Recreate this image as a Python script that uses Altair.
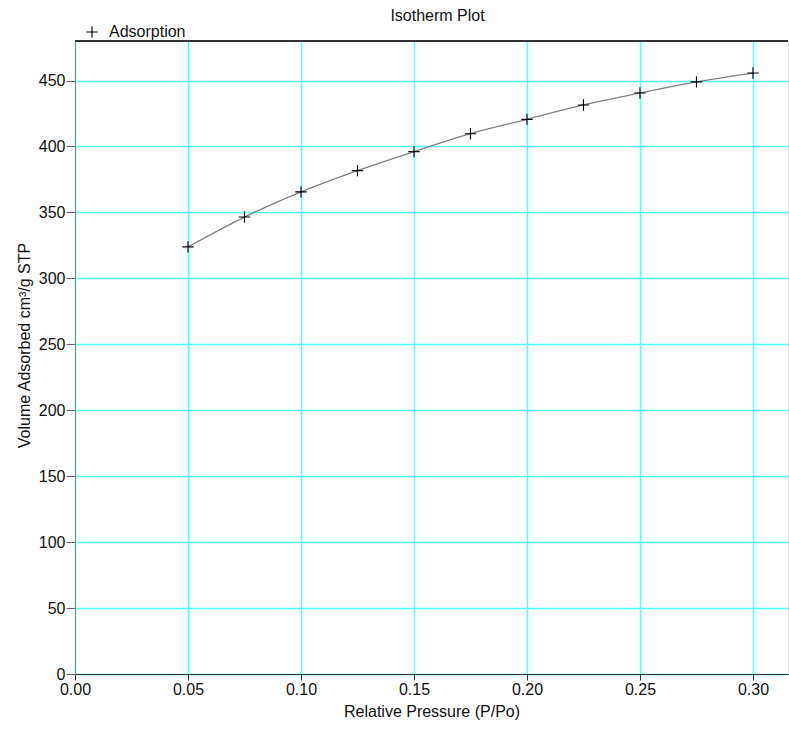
import altair as alt
import pandas as pd

pressure = [0.05, 0.075, 0.10, 0.125, 0.15, 0.175, 0.20, 0.225, 0.25, 0.275, 0.30]
volume = [323.9, 346.5, 365.6, 381.7, 396.1, 409.7, 420.6, 431.5, 440.6, 449.0, 455.7]
series = ["Adsorption"] * len(pressure)

df = pd.DataFrame({"p": pressure, "v": volume, "series": series})

FONT = "Liberation Sans"
W, H = 713, 633

xscale = alt.Scale(domain=[0, 0.3155], nice=False, zero=False)
yscale = alt.Scale(domain=[0, 480], nice=False)

xaxis = alt.Axis(
    title="Relative Pressure (P/Po)", values=[0, 0.05, 0.10, 0.15, 0.20, 0.25, 0.30],
    format=".2f", grid=True, gridColor="#55ffff", gridWidth=1.5, labelFlush=False,
    domainColor="#333333", tickColor="#333333", tickSize=6, labelPadding=1,
    labelFontSize=16, labelColor="#111111", titleFontSize=16, titleFontWeight="normal",
    titleColor="#111111", titlePadding=6, labelFont=FONT, titleFont=FONT,
)
yaxis = alt.Axis(
    title="Volume Adsorbed cm³/g STP", values=list(range(0, 451, 50)),
    grid=True, gridColor="#55ffff", gridWidth=1.5, labelFlush=False,
    domainColor="#888888", tickColor="#666666", tickSize=9, labelPadding=1,
    labelFontSize=16, labelColor="#111111", titleFontSize=16, titleFontWeight="normal",
    titleColor="#111111", titlePadding=6, titleY=304, labelFont=FONT, titleFont=FONT,
)

line = alt.Chart(df).mark_line(
    color="#808080", strokeWidth=1.3, interpolate="monotone"
).encode(
    x=alt.X("p:Q", scale=xscale, axis=xaxis),
    y=alt.Y("v:Q", scale=yscale, axis=yaxis),
)

points = alt.Chart(df).mark_point(
    shape="M-1,0L1,0M0,-1L0,1", filled=False, size=130, strokeWidth=1.1, opacity=1
).encode(
    x=alt.X("p:Q", scale=xscale),
    y=alt.Y("v:Q", scale=yscale),
    color=alt.Color(
        "series:N", scale=alt.Scale(range=["#000000"]),
        legend=alt.Legend(
            title=None, orient="none", legendX=9, legendY=-17,
            labelFont=FONT, labelFontSize=16, labelColor="#111111", labelOffset=9,
            symbolType="M-1,0L1,0M0,-1L0,1", symbolSize=130, symbolStrokeWidth=1.1,
            symbolStrokeColor="#000000", symbolFillColor="transparent",
        ),
    ),
)

top = alt.Chart(df).mark_rule(color="#333333", strokeWidth=1).encode(
    x=alt.value(0), x2=alt.value(W), y=alt.value(0)
)

chart = alt.layer(line, points, top).properties(
    width=W, height=H,
    title=alt.TitleParams("Isotherm Plot", font=FONT, fontSize=16, fontWeight="normal",
                          color="#111111", anchor="middle", offset=4, dy=4, dx=6),
    autosize=alt.AutoSizeParams(type="none"),
    padding={"left": 75, "top": 41, "right": 1, "bottom": 55},
).configure_view(stroke=None).configure(background="white")

chart.save("out.html", embed_options={"renderer": "svg", "actions": False})
